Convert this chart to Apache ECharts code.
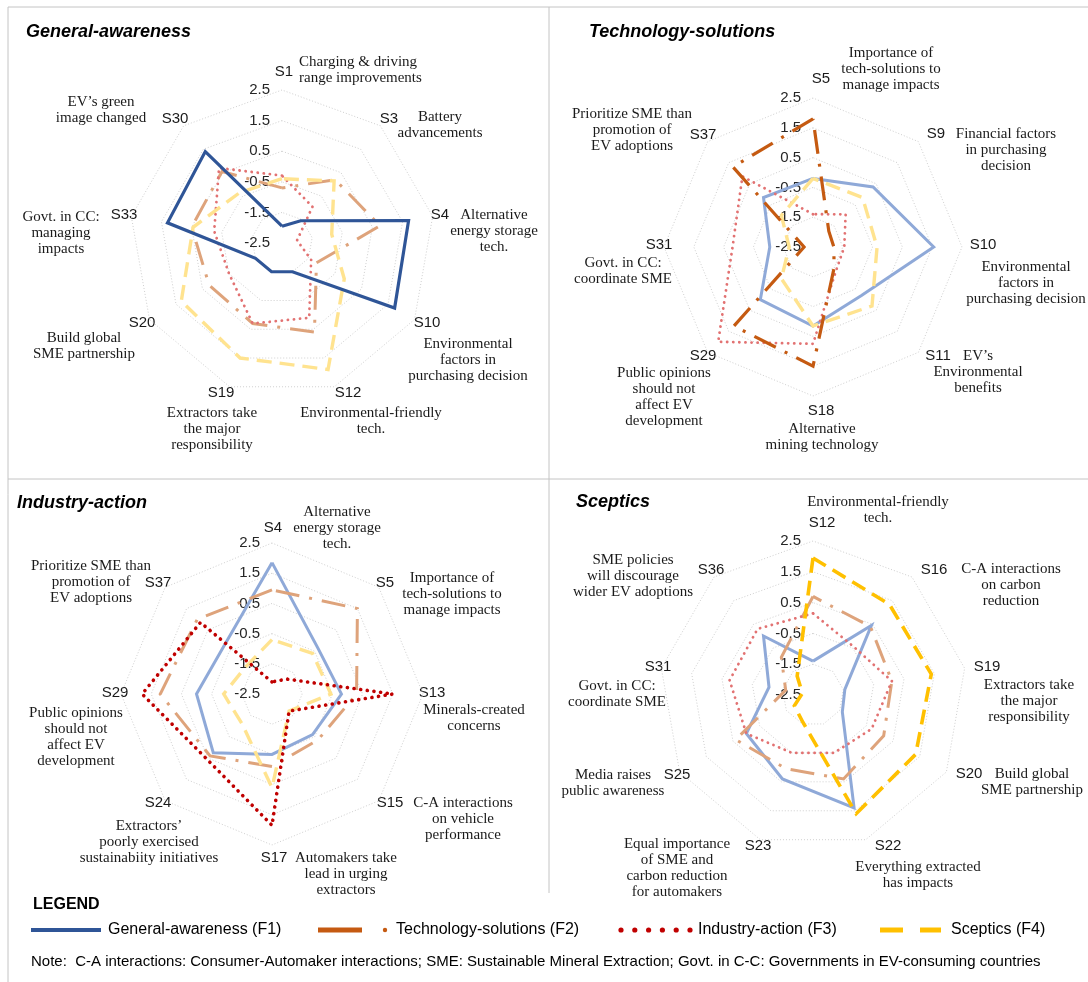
<!DOCTYPE html>
<html>
<head>
<meta charset="utf-8">
<script src="https://cdn.jsdelivr.net/npm/echarts/dist/echarts.min.js"></script>
<style>
  html, body { margin: 0; padding: 0; background: #ffffff; }
  #chart { width: 1088px; height: 982px; }
</style>
</head>
<body>
<div id="chart"></div>
<script>
// ---- radial scale shared by the four radars ----
const radialTicks = [-2.5, -1.5, -0.5, 0.5, 1.5, 2.5];

const factorNames = ['General-awareness (F1)', 'Technology-solutions (F2)', 'Industry-action (F3)', 'Sceptics (F4)'];
const panelTitles = ['General-awareness', 'Technology-solutions', 'Industry-action', 'Sceptics'];

// ---- General-awareness statements (clockwise from the top) ----
const awarenessCodes = ['S1', 'S3', 'S4', 'S10', 'S12', 'S19', 'S20', 'S33', 'S30'];
const awarenessText = [
  'Charging & driving\nrange improvements',
  'Battery\nadvancements',
  'Alternative\nenergy storage\ntech.',
  'Environmental\nfactors in\npurchasing decision',
  'Environmental-friendly\ntech.',
  'Extractors take\nthe major\nresponsibility',
  'Build global\nSME partnership',
  'Govt. in CC:\nmanaging\nimpacts',
  'EV\u2019s green\nimage changed'
];
const awarenessF1 = [-1.95, -1.55, 1.7, 1.75, -1.5, -1.5, -1.5, 1.3, 1.4];
const awarenessF2 = [-0.7, 0.2, 0.75, -1.2, 0.6, 0.3, 0.25, 0.5, 0.55];
const awarenessF3 = [-0.3, -0.95, -2.0, -1.4, 0.1, 0.3, -0.5, -0.25, 0.7];
const awarenessF4 = [-0.4, 0.15, -0.85, -0.15, 1.9, 1.5, 1.3, 0.45, -0.35];

// ---- Technology-solutions statements ----
const technologyCodes = ['S5', 'S9', 'S10', 'S11', 'S18', 'S29', 'S31', 'S37'];
const technologyText = [
  'Importance of\ntech-solutions to\nmanage impacts',
  'Financial factors\nin purchasing\ndecision',
  'Environmental\nfactors in\npurchasing decision',
  'EV\u2019s\nEnvironmental\nbenefits',
  'Alternative\nmining technology',
  'Public opinions\nshould not\naffect EV\ndevelopment',
  'Govt. in CC:\ncoordinate SME',
  'Prioritize SME than\npromotion of\nEV adoptions'
];
const technologyF1 = [-0.2, 0.35, 1.55, -0.2, 0.15, 0.0, -1.05, -0.15];
const technologyF2 = [1.8, -1.75, -1.8, -1.5, 1.5, 1.25, -2.2, 1.3];
const technologyF3 = [-1.4, -0.95, -1.45, -1.4, 0.75, 2.0, 0.2, 0.85];
const technologyF4 = [-0.2, -0.15, -0.35, 0.3, 0.15, -1.0, -1.7, -1.0];

// ---- Industry-action statements ----
const industryCodes = ['S4', 'S5', 'S13', 'S15', 'S17', 'S24', 'S29', 'S37'];
const industryText = [
  'Alternative\nenergy storage\ntech.',
  'Importance of\ntech-solutions to\nmanage impacts',
  'Minerals-created\nconcerns',
  'C-A interactions\non vehicle\nperformance',
  'Automakers take\nlead in urging\nextractors',
  'Extractors\u2019\npoorly exercised\nsustainabiity initiatives',
  'Public opinions\nshould not\naffect EV\ndevelopment',
  'Prioritize SME than\npromotion of\nEV adoptions'
];
const industryF1 = [1.85, -0.35, -0.2, -0.6, -0.5, 0.25, 0.0, -0.25];
const industryF2 = [0.95, 1.5, 0.3, -0.35, -0.1, 0.4, 1.2, 1.0];
const industryF3 = [-2.1, -1.8, 1.5, -1.7, 1.85, 0.55, 1.8, 0.85];
const industryF4 = [-0.7, -0.6, -0.55, -1.7, 0.6, -1.1, -0.9, -1.25];

// ---- Sceptics statements ----
const scepticsCodes = ['S12', 'S16', 'S19', 'S20', 'S22', 'S23', 'S25', 'S31', 'S36'];
const scepticsText = [
  'Environmental-friendly\ntech.',
  'C-A interactions\non carbon\nreduction',
  'Extractors take\nthe major\nresponsibility',
  'Build global\nSME partnership',
  'Everything extracted\nhas impacts',
  'Equal importance\nof SME and\ncarbon reduction\nfor automakers',
  'Media raises\npublic awareness',
  'Govt. in CC:\ncoordinate SME',
  'SME policies\nwill discourage\nwider EV adoptions'
];
const scepticsF1 = [-1.4, 0.45, -1.45, -1.4, 1.4, 0.4, 0.0, -1.05, 0.0];
const scepticsF2 = [0.7, 0.4, 0.1, 0.15, 0.4, 0.05, 0.4, -1.6, -0.9];
const scepticsF3 = [0.15, -0.45, 0.1, -0.3, -0.5, -0.5, 0.0, 0.25, 0.3];
const scepticsF4 = [1.95, 1.35, 1.4, 1.35, 1.6, -1.55, -1.8, -2.15, -1.7];

const note = 'Note:  C-A interactions: Consumer-Automaker interactions; SME: Sustainable Mineral Extraction; Govt. in C-C: Governments in EV-consuming countries';

// ---- panel content: which factor each radar highlights ----
const panels = [
  { codes: awarenessCodes,  text: awarenessText,  values: [awarenessF1, awarenessF2, awarenessF3, awarenessF4],     focus: 0 },
  { codes: technologyCodes, text: technologyText, values: [technologyF1, technologyF2, technologyF3, technologyF4], focus: 1 },
  { codes: industryCodes,   text: industryText,   values: [industryF1, industryF2, industryF3, industryF4],         focus: 2 },
  { codes: scepticsCodes,   text: scepticsText,   values: [scepticsF1, scepticsF2, scepticsF3, scepticsF4],         focus: 3 }
];

// ---- layout: radar placement and statement label anchors ----
// each label: [code x, code y, description x, description first-line y, align]
const frames = [
  { center: [282, 243], radius: 153, title: [26, 32], labels: [
    [284, 72, 299, 62, 'left'], [389, 119, 440, 117], [440, 215, 494, 215], [427, 323, 468, 344],
    [348, 393, 371, 413], [221, 393, 212, 413], [142, 323, 84, 338], [124, 215, 61, 217], [175, 119, 101, 102] ] },
  { center: [813, 247], radius: 149, title: [589, 32], labels: [
    [821, 79, 891, 53], [936, 134, 1006, 134], [983, 245, 1026, 267], [938, 356, 978, 356],
    [821, 411, 822, 429], [703, 356, 664, 373], [659, 245, 623, 263], [703, 135, 632, 114] ] },
  { center: [272, 694], radius: 151, title: [17, 503], labels: [
    [273, 528, 337, 512], [385, 583, 452, 578], [432, 693, 474, 710], [390, 803, 463, 803],
    [274, 858, 346, 858], [158, 803, 149, 826], [115, 693, 76, 713], [158, 583, 91, 566] ] },
  { center: [813, 695], radius: 154, title: [576, 502], labels: [
    [822, 523, 878, 502], [934, 570, 1011, 569], [987, 667, 1029, 685], [969, 774, 1032, 774],
    [888, 846, 918, 867], [758, 846, 677, 844], [677, 775, 613, 775], [658, 667, 617, 686], [711, 570, 633, 560] ] }
];

// ---- line styles: strong for the panel's own factor, soft for the others ----
const lineStyles = [
  { strong: { color: '#2f5597', width: 3.2, type: 'solid' },
    soft:   { color: '#8fa9d8', width: 3,   type: 'solid' } },
  { strong: { color: '#c55a11', width: 3.2, type: [24, 10, 3, 10] },
    soft:   { color: '#dea37b', width: 3,   type: [24, 10, 3, 10] } },
  { strong: { color: '#c00000', width: 3.6, type: [0.1, 6.6], cap: 'round' },
    soft:   { color: '#e27272', width: 2.8, type: [0.1, 6.0], cap: 'round' } },
  { strong: { color: '#ffc000', width: 3.6, type: [15, 8] },
    soft:   { color: '#ffe38f', width: 3.4, type: [15, 8] } }
];

const SANS = '"Liberation Sans", Arial, sans-serif';
const SERIF = '"Liberation Serif", "Times New Roman", serif';

// ECharts lays radar indicators out counter-clockwise; the statements run
// clockwise, so keep the first one on top and walk the rest backwards.
function clockwise(arr) {
  return [arr[0]].concat(arr.slice(1).reverse());
}

const radars = panels.map((p, i) => ({
  center: frames[i].center,
  radius: frames[i].radius,
  startAngle: 90,
  shape: 'polygon',
  splitNumber: radialTicks.length - 1,
  indicator: clockwise(p.codes).map((c, j) => ({
    name: c,
    min: radialTicks[0],
    max: radialTicks[radialTicks.length - 1],
    axisLabel: { show: j === 0 }
  })),
  axisName: { show: false },
  axisLine: { show: false },
  axisTick: { show: false },
  axisLabel: { show: false, color: '#262626', fontFamily: SANS, fontSize: 15, margin: 12 },
  splitLine: { lineStyle: { color: '#cfcfcf', type: [1, 2], width: 1 } },
  splitArea: { show: false }
}));

const series = [];
panels.forEach((p, i) => {
  p.values.forEach((vals, k) => {
    const strong = k === p.focus;
    const st = strong ? lineStyles[k].strong : lineStyles[k].soft;
    series.push({
      type: 'radar',
      name: factorNames[k],
      radarIndex: i,
      symbol: 'none',
      silent: true,
      z: strong ? 4 : 2,
      lineStyle: Object.assign({ join: 'miter' }, st),
      emphasis: { disabled: true },
      data: [{ value: clockwise(vals) }]
    });
  });
});

// ---- text and frame elements ----
const graphics = [];
const frameStroke = '#c4c4c4';
[[8, 7, 1088, 7], [8, 7, 8, 982], [549, 7, 549, 893], [8, 479, 1088, 479]].forEach(l => {
  graphics.push({ type: 'line', silent: true, shape: { x1: l[0], y1: l[1], x2: l[2], y2: l[3] },
    style: { stroke: frameStroke, lineWidth: 1 } });
});

panels.forEach((p, i) => {
  const f = frames[i];
  graphics.push({ type: 'text', x: f.title[0], y: f.title[1], silent: true,
    style: { text: panelTitles[i], font: 'italic bold 18px ' + SANS, fill: '#000',
      textAlign: 'left', textVerticalAlign: 'middle', align: 'left', verticalAlign: 'middle' } });
  p.codes.forEach((c, j) => {
    const L = f.labels[j];
    graphics.push({ type: 'text', x: L[0], y: L[1], silent: true,
      style: { text: c, font: '15px ' + SANS, fill: '#1a1a1a',
        textAlign: 'center', textVerticalAlign: 'middle', align: 'center', verticalAlign: 'middle' } });
    const al = L[4] || 'center';
    graphics.push({ type: 'text', x: L[2], y: L[3] - 8, silent: true,
      style: { text: p.text[j], font: '15px ' + SERIF, fill: '#1a1a1a', lineHeight: 16,
        textAlign: al, textVerticalAlign: 'top', align: al, verticalAlign: 'top' } });
  });
});

// ---- legend ----
const legY = 930;
graphics.push({ type: 'text', x: 33, y: 905, silent: true,
  style: { text: 'LEGEND', font: 'bold 16px ' + SANS, fill: '#000',
    textAlign: 'left', textVerticalAlign: 'middle', align: 'left', verticalAlign: 'middle' } });
graphics.push({ type: 'line', silent: true, shape: { x1: 31, y1: legY, x2: 101, y2: legY },
  style: { stroke: lineStyles[0].strong.color, lineWidth: 4 } });
graphics.push({ type: 'line', silent: true, shape: { x1: 318, y1: legY, x2: 362, y2: legY },
  style: { stroke: lineStyles[1].strong.color, lineWidth: 5 } });
graphics.push({ type: 'circle', silent: true, shape: { cx: 385, cy: legY, r: 2.2 },
  style: { fill: lineStyles[1].strong.color } });
for (let d = 0; d < 6; d++) {
  graphics.push({ type: 'circle', silent: true, shape: { cx: 621 + d * 13.8, cy: legY, r: 2.6 },
    style: { fill: lineStyles[2].strong.color } });
}
graphics.push({ type: 'line', silent: true, shape: { x1: 880, y1: legY, x2: 903, y2: legY },
  style: { stroke: lineStyles[3].strong.color, lineWidth: 5 } });
graphics.push({ type: 'line', silent: true, shape: { x1: 920, y1: legY, x2: 941, y2: legY },
  style: { stroke: lineStyles[3].strong.color, lineWidth: 5 } });
[108, 396, 698, 951].forEach((x, k) => {
  graphics.push({ type: 'text', x: x, y: legY, silent: true,
    style: { text: factorNames[k], font: '16px ' + SANS, fill: '#000',
      textAlign: 'left', textVerticalAlign: 'middle', align: 'left', verticalAlign: 'middle' } });
});
graphics.push({ type: 'text', x: 31, y: 962, silent: true,
  style: { text: note, font: '15px ' + SANS, fill: '#000',
    textAlign: 'left', textVerticalAlign: 'middle', align: 'left', verticalAlign: 'middle' } });

const chart = echarts.init(document.getElementById('chart'), null, { renderer: 'canvas' });
chart.setOption({
  backgroundColor: '#ffffff',
  animation: false,
  radar: radars,
  series: series,
  graphic: { elements: graphics }
});
</script>
</body>
</html>
